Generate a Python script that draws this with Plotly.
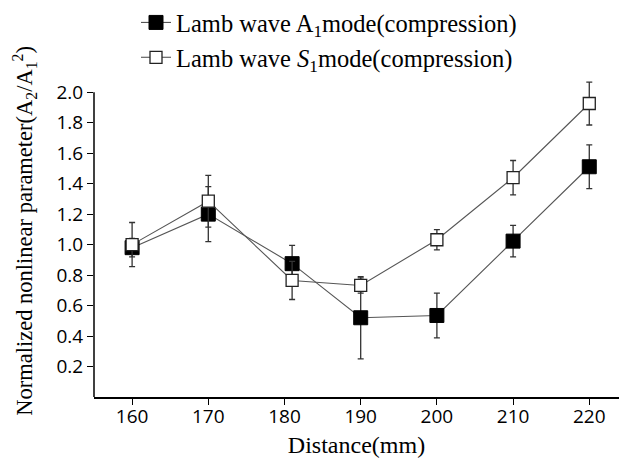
import plotly.graph_objects as go

distance = [160, 170, 181, 190, 200, 210, 220]
a1_values = [0.98, 1.20, 0.875, 0.52, 0.535, 1.023, 1.511]
a1_errors = [0.06, 0.18, 0.12, 0.27, 0.147, 0.103, 0.144]
s1_values = [1.00, 1.285, 0.765, 0.732, 1.032, 1.439, 1.926]
s1_errors = [0.145, 0.17, 0.125, 0.05, 0.067, 0.113, 0.141]
x_ticks = [160, 170, 180, 190, 200, 210, 220]
y_ticks = [0.2, 0.4, 0.6, 0.8, 1.0, 1.2, 1.4, 1.6, 1.8, 2.0]
y_axis_top = 2.0

serif = "Liberation Serif, Times New Roman, serif"
sans = "Open Sans, Noto Sans, sans-serif"

fig = go.Figure()
fig.add_trace(go.Scatter(
    x=distance, y=a1_values, mode="lines+markers",
    name="Lamb wave A<sub>1</sub>mode(compression)",
    line=dict(color="#555555", width=1.1),
    marker=dict(symbol="square", size=14, color="black", line=dict(color="black", width=1)),
    error_y=dict(type="data", array=a1_errors, color="#333333", thickness=1.3, width=3),
    cliponaxis=False, legendgroup="a",
))
fig.add_trace(go.Scatter(
    x=distance, y=s1_values, mode="lines+markers",
    name="Lamb wave <i>S</i><sub>1</sub>mode(compression)",
    line=dict(color="#555555", width=1.1),
    marker=dict(symbol="square", size=12, color="white", line=dict(color="#222222", width=1.3)),
    error_y=dict(type="data", array=s1_errors, color="#333333", thickness=1.3, width=3),
    cliponaxis=False, legendgroup="b",
))

# left axis line stops at the 2.0 tick
fig.add_shape(type="line", xref="paper", yref="y", x0=0, x1=0, y0=0, y1=y_axis_top,
              line=dict(color="black", width=1.5))

fig.add_annotation(
    text="Normalized nonlinear parameter(A<sub>2</sub>/A<sub>1</sub><sup>2</sup>)",
    xref="paper", yref="paper", x=-0.133, y=0.52, xanchor="center", yanchor="middle",
    textangle=-90, showarrow=False,
    font=dict(family=serif, size=22.5, color="black"),
)

fig.update_layout(
    width=619, height=466,
    margin=dict(l=94, r=0, t=77, b=69, autoexpand=False),
    paper_bgcolor="white", plot_bgcolor="white",
    showlegend=True,
    legend=dict(
        x=0.08, y=1.0, xref="paper", yref="container", xanchor="left", yanchor="top",
        font=dict(family=serif, size=24.5, color="black"),
        traceorder="grouped", tracegroupgap=0,
        bgcolor="rgba(0,0,0,0)",
    ),
    xaxis=dict(
        range=[155.0, 223.9], tickvals=x_ticks,
        showgrid=False, zeroline=False,
        showline=True, linecolor="black", linewidth=1.5,
        ticks="outside", ticklen=6, tickwidth=1.3, tickcolor="black",
        tickfont=dict(family=sans, size=19, color="black"),
        ticklabelstandoff=-5,
        title=dict(text="Distance(mm)", font=dict(family=serif, size=24, color="black"), standoff=9),
    ),
    yaxis=dict(
        range=[0, 2.1], tickvals=y_ticks, tickformat=".1f",
        showgrid=False, zeroline=False,
        showline=False,
        ticks="outside", ticklen=6, tickwidth=1.3, tickcolor="black",
        tickfont=dict(family=sans, size=19, color="black"),
    ),
)

fig.write_html("out.html")
